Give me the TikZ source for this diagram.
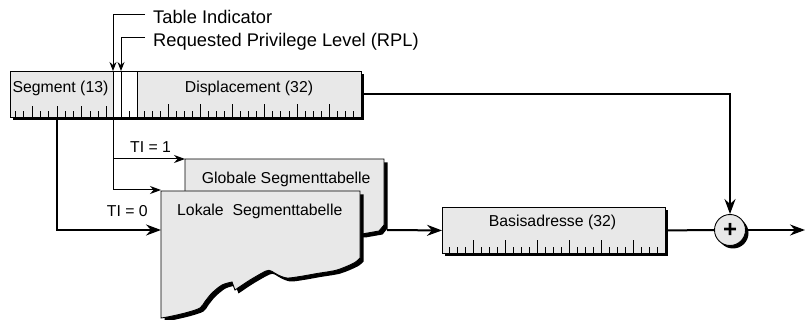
\documentclass[tikz,border=0pt]{standalone}
\usepackage{fontspec}
\setmainfont{Liberation Sans}
\usetikzlibrary{arrows.meta,shadows}

\begin{document}
\begin{tikzpicture}[x=1pt,y=-1pt,
  font=\fontsize{15.8}{19}\selectfont,
  blackshadow/.style={drop shadow={shadow xshift=3pt,shadow yshift=-3pt,opacity=1,fill=black}},
  field/.style={draw=black, line width=0.9pt, fill=black!9, inner sep=0pt, minimum height=46pt, anchor=north west, blackshadow},
  bitfield/.style={field, fill=white},
  segtable/.style={draw=black, line width=0.9pt, fill=black!9, drop shadow={shadow xshift=3.5pt,shadow yshift=-3.5pt,opacity=1,fill=black}},
  txt/.style={inner sep=0pt, anchor=base west},
  boxtxt/.style={inner sep=0pt, anchor=base},
  toplbl/.style={txt, font=\fontsize{18.3}{22}\selectfont},
  heavy/.style={line width=2pt},
  light/.style={line width=1pt},
  bigtip/.style={-{Stealth[length=15pt,width=11pt,inset=5pt]}},
  midtip/.style={-{Stealth[length=11pt,width=8pt,inset=3.5pt]}},
  smalltip/.style={-{Stealth[length=9pt,width=7pt,inset=3pt]}},
  tick/.style={line width=0.9pt}]

\useasboundingbox (0,0) rectangle (806,320);

%Selector and displacement
\node[field, minimum width=103pt] (seg) at (10,71) {};
\node[bitfield, minimum width=8pt] (ti) at (113,71) {};
\node[bitfield, minimum width=16pt] (rpl) at (121,71) {};
\node[field, minimum width=224pt] (disp) at (137,71) {};
\foreach \k in {1,...,12}{\pgfmathsetmacro\len{mod(\k,3)==0 ? 12 : 7} \draw[tick] (seg.south west) ++(8.3*\k-2.8,0) -- ++(0,-\len);}
\draw[tick] (rpl.south) -- ++(0,-7);
\foreach \k in {1,...,27}{\pgfmathsetmacro\len{mod(\k,4)==0 ? 14 : 7} \draw[tick] (disp.south west) ++(8.05*\k-1,0) -- ++(0,-\len);}
\node[boxtxt] (segtxt) at (60.5,93) {Segment (13)};
\node[boxtxt] (disptxt) at (249,93) {Displacement (32)};

\node[toplbl] (tilbl) at (153,24) {Table Indicator};
\node[toplbl] (rpllbl) at (153,47) {Requested Privilege Level (RPL)};
\draw[light, smalltip] ([shift={(-8,-9)}]tilbl.base west) -| (ti.north west);
\draw[light, smalltip] ([shift={(-8,-9)}]rpllbl.base west) -| (rpl.north west);

%Tables
\coordinate (glo in) at (185,159); \coordinate (lok ti) at (161,190); \coordinate (lok in) at (161,230); \coordinate (tab out) at (387,230);
\filldraw[segtable] (185,159) -- (384,159) -- (384,225) -- (379,231) -- (362,234) -- (185,234) -- cycle;
\filldraw[segtable] (161,191) -- (360,191) -- (360,258) -- plot[smooth] coordinates {(360,258) (354,263) (337,270) (317,273.5) (300,276.5) (287,278) (278,275) (271,271) (266,271) (250,280) (235,290)} -- (232,282) -- plot[smooth] coordinates {(232,282) (222,285) (212,293) (205,301.5) (200,308) (187,312.5) (170,316.5) (161,318)} -- cycle;
\node[txt] (glotxt) at (201.7,184) {Globale Segmenttabelle};
\node[txt] (loktxt) at (177,216) {Lokale\ \ Segmenttabelle};

\draw[light, midtip] (ti.south west) |- (glo in); \draw[light, midtip] (ti.south west) |- (lok ti);
\node[txt] (ti1) at (130,153) {TI = 1}; \node[txt] (ti0) at (106.7,217) {TI = 0};
\draw[heavy, bigtip] ([xshift=-4.5pt]seg.south) |- (lok in);

%Base address and sum
\node[field, minimum width=223pt] (basis) at (442,207) {};
\foreach \k in {1,...,27}{\pgfmathsetmacro\len{mod(\k,4)==0 ? 14 : 7} \draw[tick] (basis.south west) ++(8*\k-1,0) -- ++(0,-\len);}
\node[boxtxt] (basistxt) at (552.5,227) {Basisadresse (32)};
\node[circle, draw=black, line width=0.9pt, fill=black!9, minimum size=31pt, inner sep=0pt, blackshadow] (plus) at (730,230) {\fontsize{24}{24}\bfseries +};
\coordinate (out) at (805,230);

\draw[heavy, bigtip] (tab out) -- (basis.west);
\draw[heavy] (basis.east) -- (plus.west);
\draw[heavy, bigtip] (disp.east) -| (plus.north);
\draw[heavy, bigtip] (plus.east) -- (out);

\end{tikzpicture}
\end{document}
